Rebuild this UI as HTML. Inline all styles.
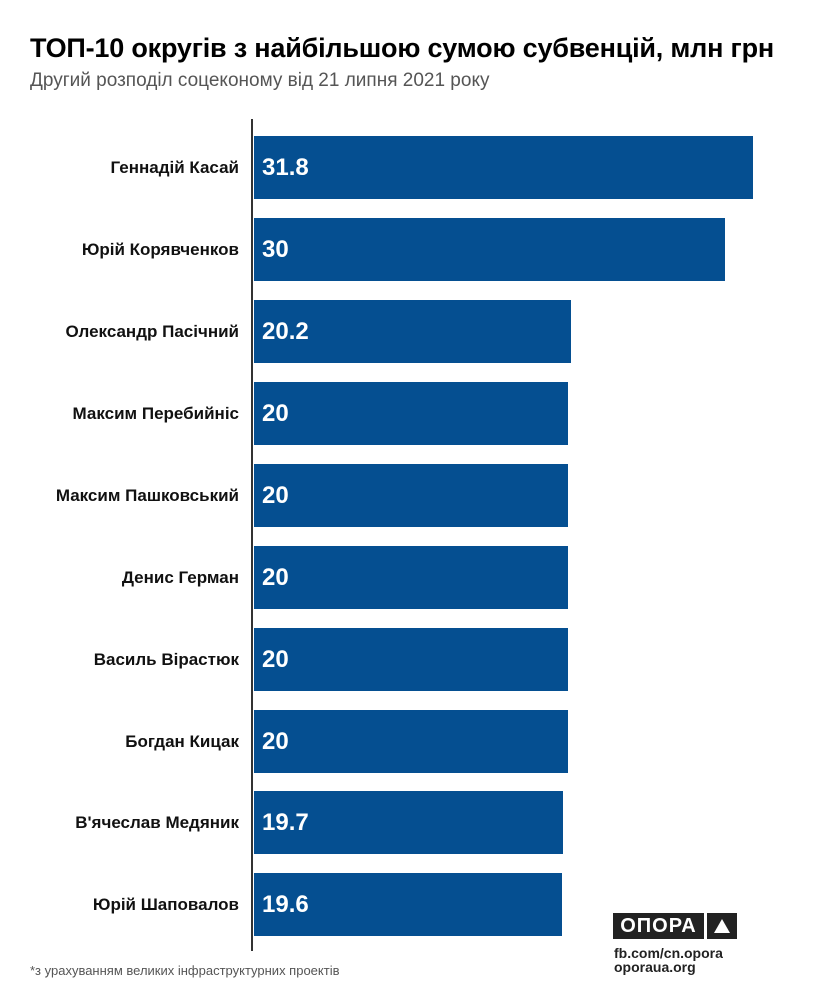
<!DOCTYPE html>
<html><head><meta charset="utf-8"><style>
body{margin:0;width:833px;height:1000px;background:#fff;position:relative;overflow:hidden;font-family:"Liberation Sans","DejaVu Sans",sans-serif}
.t{position:absolute;left:30px;top:33px;font-size:27px;font-weight:bold;color:#000;white-space:nowrap;letter-spacing:-0.2px}
.s{position:absolute;left:30px;top:70px;font-size:19px;color:#555;white-space:nowrap}
.ax{position:absolute;left:251px;top:119px;width:2px;height:832px;background:#333}
.bar{position:absolute;left:254px;height:63px;background:#054f91}
.v{position:absolute;left:8px;top:0;line-height:63px;color:#fff;font-weight:bold;font-size:24px}
.l{position:absolute;right:594px;height:63px;line-height:63px;font-weight:bold;font-size:17px;color:#111;white-space:nowrap}
.fn{position:absolute;left:30px;top:963px;font-size:13px;color:#555}
.logo{position:absolute;left:613px;top:913px;height:26px;width:91px;background:#222;color:#fff;font-weight:bold;font-size:20px;line-height:26px;text-align:center;letter-spacing:1px}
.tri{position:absolute;left:707px;top:913px;width:30px;height:26px;background:#222}
.tri:after{content:"";position:absolute;left:7px;top:6px;border-left:8px solid transparent;border-right:8px solid transparent;border-bottom:14px solid #fff}
.u{position:absolute;left:614px;font-size:14px;font-weight:bold;color:#222;line-height:15px}
</style></head><body>
<div class="t">ТОП-10 округів з найбільшою сумою субвенцій, млн грн</div>
<div class="s">Другий розподіл соцеконому від 21 липня 2021 року</div>
<div class="ax"></div>

<div class="l" style="top:136px">Геннадій Касай</div><div class="bar" style="top:136px;width:499px"><span class="v">31.8</span></div>
<div class="l" style="top:218px">Юрій Корявченков</div><div class="bar" style="top:218px;width:471px"><span class="v">30</span></div>
<div class="l" style="top:300px">Олександр Пасічний</div><div class="bar" style="top:300px;width:317px"><span class="v">20.2</span></div>
<div class="l" style="top:382px">Максим Перебийніс</div><div class="bar" style="top:382px;width:314px"><span class="v">20</span></div>
<div class="l" style="top:464px">Максим Пашковський</div><div class="bar" style="top:464px;width:314px"><span class="v">20</span></div>
<div class="l" style="top:546px">Денис Герман</div><div class="bar" style="top:546px;width:314px"><span class="v">20</span></div>
<div class="l" style="top:628px">Василь Вірастюк</div><div class="bar" style="top:628px;width:314px"><span class="v">20</span></div>
<div class="l" style="top:710px">Богдан Кицак</div><div class="bar" style="top:710px;width:314px"><span class="v">20</span></div>
<div class="l" style="top:791px">В'ячеслав Медяник</div><div class="bar" style="top:791px;width:309px"><span class="v">19.7</span></div>
<div class="l" style="top:873px">Юрій Шаповалов</div><div class="bar" style="top:873px;width:308px"><span class="v">19.6</span></div>

<div class="fn">*з урахуванням великих інфраструктурних проектів</div>
<div class="logo">ОПОРА</div><div class="tri"></div>
<div class="u" style="top:946px">fb.com/cn.opora</div>
<div class="u" style="top:960px">oporaua.org</div>
</body></html>
